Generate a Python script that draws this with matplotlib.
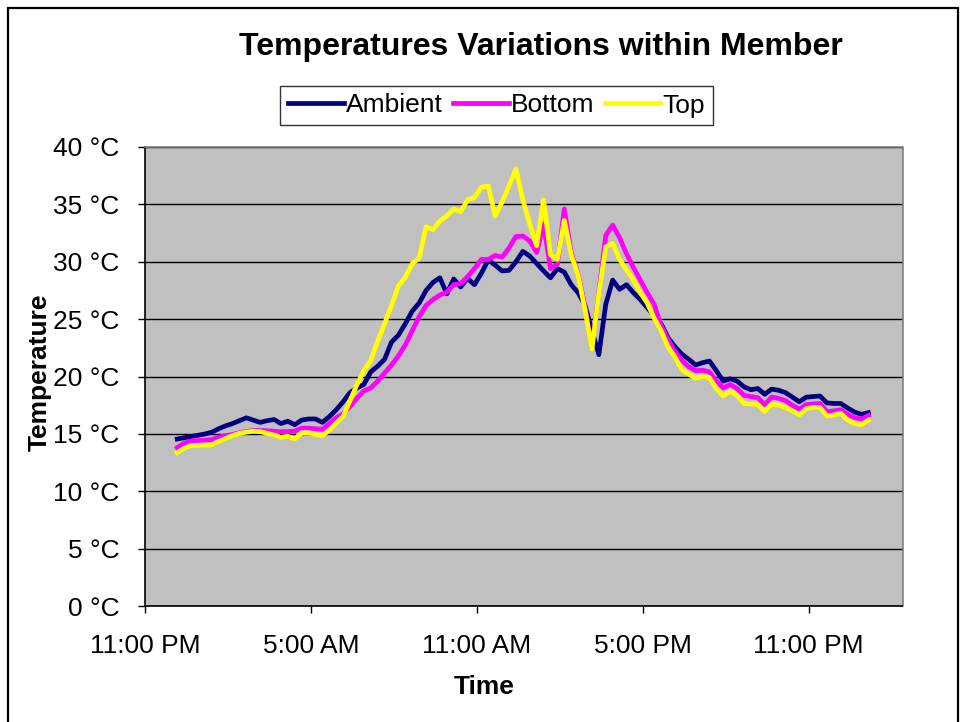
import matplotlib
matplotlib.use("Agg")
import matplotlib.pyplot as plt
import matplotlib.dates as mdates
from matplotlib.patches import Rectangle
import pandas as pd

plt.rcParams['font.family'] = ['Liberation Sans', 'DejaVu Sans']

# 15-minute readings
start_time = "2000-01-02 00:10"
n_points = 101
ambient = [14.55, 14.66, 14.77, 14.88, 14.99, 15.15, 15.45, 15.7, 15.9, 16.15,
           16.4, 16.2, 16.0, 16.15, 16.25, 15.9, 16.1, 15.8, 16.2, 16.3,
           16.3, 16.0, 16.5, 17.1, 17.8, 18.6, 19.0, 19.3, 20.4, 20.9,
           21.5, 23.0, 23.6, 24.6, 25.7, 26.4, 27.5, 28.2, 28.6, 27.2,
           28.5, 27.8, 28.55, 28.0, 29.0, 30.15, 29.7, 29.2, 29.25, 30.0,
           30.9, 30.5, 29.85, 29.2, 28.6, 29.4, 29.1, 28.0, 27.3, 26.2,
           24.0, 21.9, 26.3, 28.4, 27.6, 28.0, 27.3, 26.7, 26.0, 25.3,
           24.6, 23.4, 22.6, 21.95, 21.5, 21.0, 21.2, 21.35, 20.5, 19.6,
           19.8, 19.6, 19.1, 18.85, 18.95, 18.45, 18.9, 18.8, 18.6, 18.2,
           17.8, 18.2, 18.25, 18.3, 17.7, 17.65, 17.65, 17.25, 16.9, 16.7,
           16.85]
bottom = [13.8, 14.2, 14.38, 14.42, 14.45, 14.5, 14.72, 14.85, 14.95, 15.1,
          15.2, 15.3, 15.3, 15.27, 15.23, 15.19, 15.2, 15.24, 15.5, 15.5,
          15.45, 15.4, 15.9, 16.4, 16.75, 17.4, 18.1, 18.75, 19.0, 19.6,
          20.3, 21.0, 21.8, 22.75, 24.0, 25.2, 26.2, 26.7, 27.1, 27.35,
          28.0, 28.1, 28.7, 29.4, 30.2, 30.2, 30.55, 30.4, 31.2, 32.2,
          32.25, 31.8, 30.8, 33.3, 29.4, 29.8, 34.6, 30.8, 28.9, 26.1,
          22.5, 27.3, 32.3, 33.2, 32.1, 30.7, 29.5, 28.4, 27.3, 26.3,
          24.45, 23.2, 22.2, 21.4, 20.85, 20.5, 20.55, 20.4, 19.6, 19.0,
          19.3, 18.95, 18.35, 18.25, 18.15, 17.55, 18.2, 18.1, 17.9, 17.5,
          17.15, 17.55, 17.6, 17.65, 16.95, 17.0, 17.1, 16.7, 16.4, 16.3,
          16.6]
top = [13.36, 13.75, 13.98, 14.0, 14.02, 14.05, 14.35, 14.6, 14.85, 15.05,
       15.15, 15.24, 15.2, 15.05, 14.9, 14.7, 14.8, 14.55, 15.1, 15.1,
       14.95, 14.85, 15.3, 15.95, 16.5, 17.9, 19.3, 20.5, 21.4, 23.1,
       24.6, 26.2, 27.9, 28.65, 29.85, 30.3, 33.05, 32.8, 33.55, 34.0,
       34.6, 34.35, 35.4, 35.6, 36.5, 36.6, 34.0, 35.2, 36.6, 38.1,
       35.4, 33.3, 31.4, 35.4, 30.6, 30.2, 33.6, 30.6, 28.8, 25.8,
       22.4, 27.2, 31.3, 31.6, 30.2, 29.3, 28.4, 27.3, 26.4, 25.1,
       24.0, 22.6, 21.7, 20.6, 20.2, 19.85, 20.0, 19.9, 18.95, 18.3,
       18.7, 18.35, 17.65, 17.6, 17.55, 16.95, 17.6, 17.5, 17.3, 17.0,
       16.65, 17.2, 17.3, 17.3, 16.55, 16.65, 16.8, 16.2, 15.9, 15.8,
       16.2]
series_names = ["Ambient", "Bottom", "Top"]
series_colors = ["#000080", "#FF00FF", "#FFFF00"]
tick_times = ["2000-01-01 23:00", "2000-01-02 05:00", "2000-01-02 11:00",
              "2000-01-02 17:00", "2000-01-02 23:00"]
x_min = "2000-01-01 23:00"
x_max = "2000-01-03 02:24"
y_ticks = [0, 5, 10, 15, 20, 25, 30, 35, 40]

times = pd.date_range(start=start_time, periods=n_points, freq="15min")

W, H = 967, 722
fig = plt.figure(figsize=(W / 100, H / 100), dpi=100)
fig.patch.set_facecolor("white")
# outer chart border
fig.patches.append(Rectangle((8 / W, -0.01), (958 - 8) / W, 1 - 8 / H + 0.01,
                             transform=fig.transFigure, fill=False,
                             edgecolor="black", linewidth=1.6))

ax = fig.add_axes([145 / W, 1 - 606 / H, (902.5 - 145) / W, (606 - 147) / H])
ax.set_facecolor("#C0C0C0")

lines = []
for vals, name, col in zip([ambient, bottom, top], series_names, series_colors):
    ln, = ax.plot(times, vals, color=col, linewidth=3.4, label=name,
                  solid_joinstyle="round", zorder=3)
    lines.append(ln)

ax.set_ylim(0, 40)
ax.set_yticks(y_ticks)
ax.set_yticklabels([f"{v} °C" for v in y_ticks])
ax.set_xlim(pd.Timestamp(x_min), pd.Timestamp(x_max))
ax.set_xticks([pd.Timestamp(t) for t in tick_times])


def fmt(x, pos=None):
    dt = mdates.num2date(x)
    h = dt.hour % 12 or 12
    return f"{h}:{dt.minute:02d} {'AM' if dt.hour < 12 else 'PM'}"


ax.xaxis.set_major_formatter(plt.FuncFormatter(fmt))
ax.grid(axis="y", color="black", linewidth=1.0, zorder=1)
ax.set_axisbelow(True)
ax.tick_params(axis="both", labelsize=19, direction="out", length=5,
               width=1, color="black")
ax.tick_params(axis="x", pad=15)
ax.tick_params(axis="y", pad=13.5)
for s in ["left", "bottom"]:
    ax.spines[s].set_color("black")
    ax.spines[s].set_linewidth(1.2)
for s in ["top", "right"]:
    ax.spines[s].set_color("#808080")
    ax.spines[s].set_linewidth(1.2)

fig.text(541 / W, 1 - 47 / H, "Temperatures Variations within Member",
         ha="center", va="center", fontsize=23, fontweight="bold")
fig.text(484 / W, 1 - 687 / H, "Time", ha="center", va="center",
         fontsize=19, fontweight="bold")
fig.text(40 / W, 1 - 372 / H, "Temperature", ha="center", va="center",
         rotation=90, fontsize=19, fontweight="bold")

leg = fig.legend(handles=lines, labels=series_names, loc="center",
                 bbox_to_anchor=(496.5 / W, 1 - 105.5 / H), ncol=3, fontsize=19,
                 frameon=True, fancybox=False, edgecolor="black",
                 handlelength=2.1, handletextpad=0.08, columnspacing=0.4,
                 borderpad=0.3, borderaxespad=0)
leg.get_frame().set_linewidth(1.0)

fig.savefig("out.png", dpi=100)
